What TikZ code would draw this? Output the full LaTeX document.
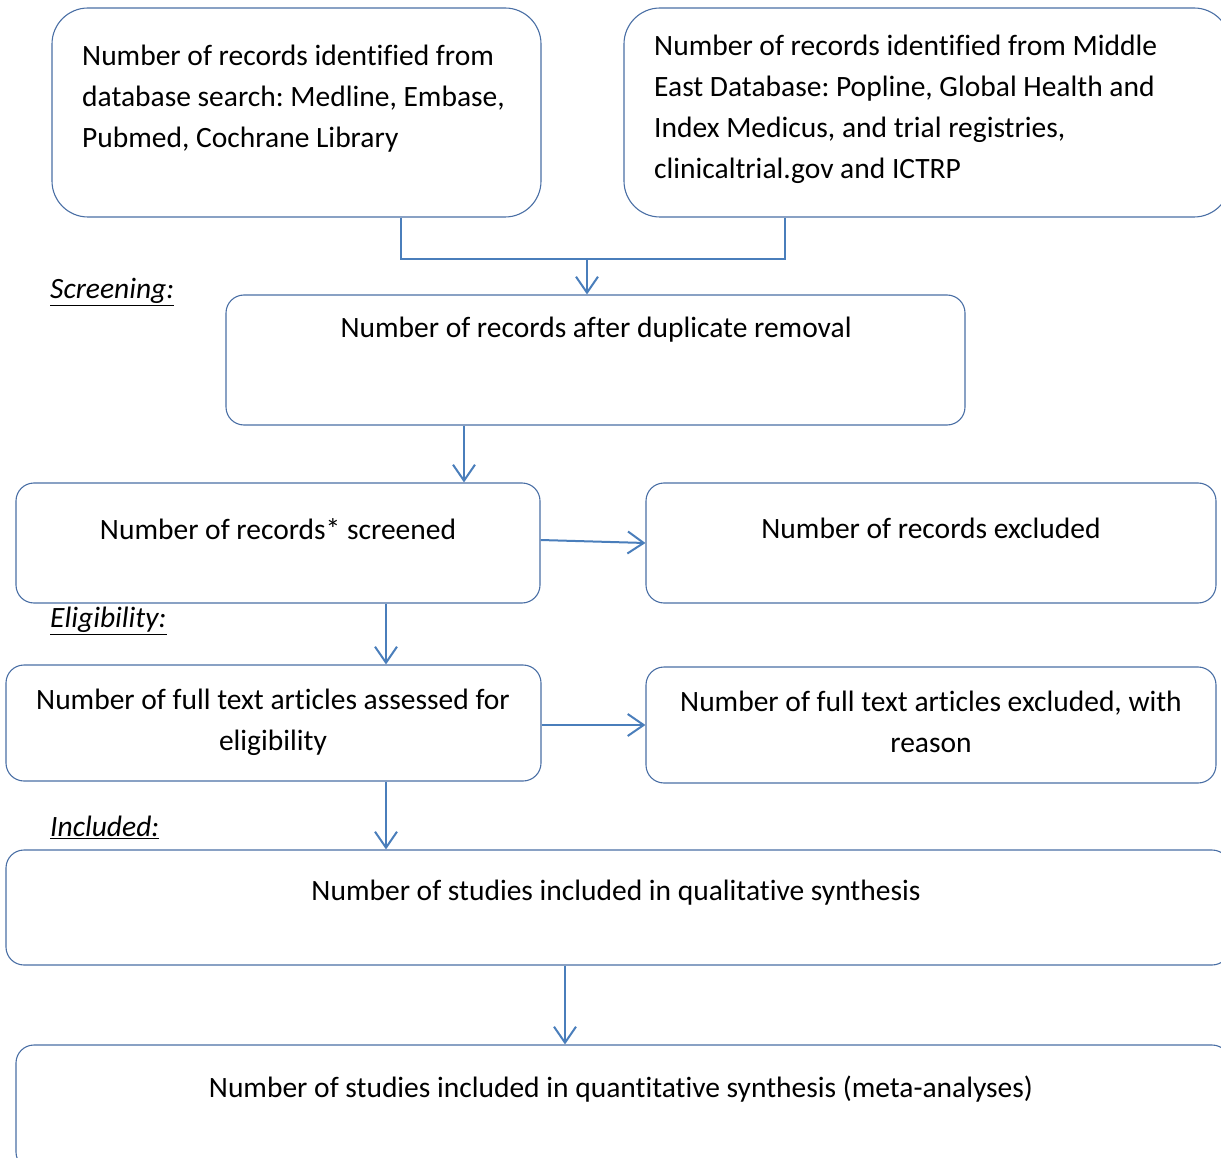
\documentclass[tikz,border=0pt]{standalone}
\usepackage{fontspec}
\setmainfont{Carlito}[Ligatures=NoCommon]
\usetikzlibrary{arrows.meta}
\frenchspacing
\definecolor{boxline}{RGB}{74,111,165}
\definecolor{arrowline}{RGB}{74,126,187}
\tikzset{
  box/.style={draw=boxline, line width=1.1pt, fill=none, inner sep=0pt},
  txt/.style={inner sep=0pt, font=\fontsize{29.5}{41}\selectfont, align=left},
  ctxt/.style={inner sep=0pt, font=\fontsize{29.5}{41}\selectfont, align=center},
  lab/.style={inner sep=0pt, font=\fontsize{29.5}{34}\selectfont\itshape, anchor=west},
  arr/.style={draw=arrowline, line width=2pt, -{Straight Barb[length=16pt,width=22pt,line width=2pt]}},
  conn/.style={draw=arrowline, line width=1.1pt}
}
\begin{document}
\begin{tikzpicture}[x=1pt,y=-1pt]
\useasboundingbox (0,0) rectangle (1221,1158);
% boxes
\node[box, rounded corners=36pt, minimum width=489pt, minimum height=209pt] (b1) at (296.5,112.5) {};
\node[box, rounded corners=36pt, minimum width=606pt, minimum height=209pt] (b2) at (927,112.5) {};
\node[box, rounded corners=18pt, minimum width=739pt, minimum height=130pt] (b3) at (595.5,360) {};
\node[box, rounded corners=18pt, minimum width=524pt, minimum height=120pt] (b4) at (278,543) {};
\node[box, rounded corners=18pt, minimum width=570pt, minimum height=120pt] (b5) at (931,543) {};
\node[box, rounded corners=18pt, minimum width=535pt, minimum height=116pt] (b6) at (273.5,723) {};
\node[box, rounded corners=18pt, minimum width=570pt, minimum height=116pt] (b7) at (931,725) {};
\node[box, rounded corners=18pt, minimum width=1224pt, minimum height=115pt] (b8) at (618,907.5) {};
\node[box, rounded corners=18pt, minimum width=1214pt, minimum height=125pt] (b9) at (623,1107.5) {};
% texts
\node[txt, anchor=north west] (t1) at (82,45) {Number of records identified from\\database search: Medline, Embase,\\Pubmed, Cochrane Library};
\node[txt, anchor=north west] (t2) at (654,35) {Number of records identified from Middle\\East Database: Popline, Global Health and\\Index Medicus, and trial registries,\\clinicaltrial.gov and ICTRP};
\node[ctxt] (t3) at (596,330) {Number of records after duplicate removal};
\node[ctxt] (t4) at (278,529) {Number of records* screened};
\node[ctxt] (t5) at (931,528) {Number of records excluded};
\node[ctxt, anchor=north] (t6) at (273,689) {Number of full text articles assessed for\\eligibility};
\node[ctxt, anchor=north] (t7) at (931,691) {Number of full text articles excluded, with\\reason};
\node[ctxt] (t8) at (616,893) {Number of studies included in qualitative synthesis};
\node[ctxt] (t9) at (621,1089) {Number of studies included in quantitative synthesis (meta-analyses)};
% labels
\node[lab] (l1) at (50,292) {\underline{Screening:}};
\node[lab] (l2) at (50,621) {\underline{Eligibility:}};
\node[lab] (l3) at (50,827) {\underline{Included:}};
% connectors
\coordinate (j) at (587,259);
\draw[conn] (b1.south -| 401,0) |- (j) -| (b2.south -| 785,0);
\draw[arr] (j) -- (b3.north -| j);
\draw[arr] (b3.south -| 464,0) -- (b4.north -| 464,0);
\draw[arr] (b4.east |- 0,540) -- (b5.west |- 0,543);
\draw[arr] (b4.south -| 386,0) -- (b6.north -| 386,0);
\draw[arr] (b6.east |- 0,725) -- (b7.west |- 0,725);
\draw[arr] (b6.south -| 386,0) -- (b8.north -| 386,0);
\draw[arr] (b8.south -| 565,0) -- (b9.north -| 565,0);
\end{tikzpicture}
\end{document}
